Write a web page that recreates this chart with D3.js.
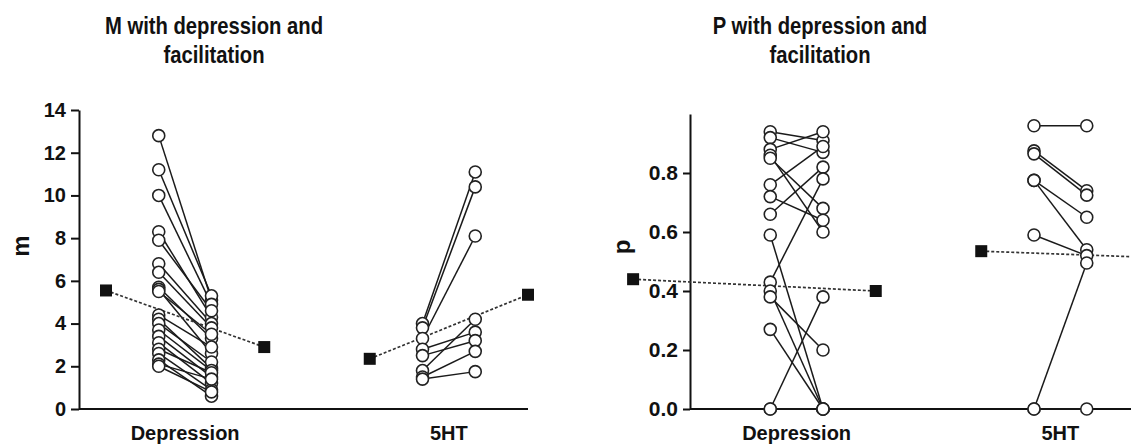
<!DOCTYPE html>
<html><head><meta charset="utf-8">
<script src="https://cdn.jsdelivr.net/npm/d3@7"></script>
<style>
body{margin:0;background:#fff}
svg{display:block}
text{font-family:"Liberation Sans",Arial,Helvetica,sans-serif;font-weight:bold;fill:#111}
</style>
</head><body>
<svg id="c" width="1131" height="444"></svg>
<script>
// ---------- data ----------
const categories = ["Depression", "5HT"];
const titles = [["M with depression and", "facilitation"], ["P with depression and", "facilitation"]];
const yLabels = ["m", "p"];

const mTicks = [0, 2, 4, 6, 8, 10, 12, 14];
const pTicks = [0, 0.2, 0.4, 0.6, 0.8];

// M panel, Depression (before -> after)
const mDepBefore = [12.8, 11.2, 10.0, 8.3, 7.9, 6.8, 6.4, 5.7, 5.6, 5.5, 4.4, 4.2, 4.0, 3.7, 3.4, 3.1, 2.8, 2.6, 2.3, 2.1, 2.0];
const mDepAfter  = [5.1, 5.3, 4.9, 4.3, 4.6, 4.0, 3.8, 3.3, 2.6, 3.5, 2.9, 1.9, 2.2, 1.8, 1.5, 1.2, 1.7, 0.9, 0.6, 1.4, 0.8];
const mDepMean   = [5.55, 2.9];
// M panel, 5HT
const m5htBefore = [4.0, 3.8, 3.3, 2.8, 2.5, 1.8, 1.5, 1.4];
const m5htAfter  = [11.1, 10.4, 8.1, 3.6, 3.2, 4.2, 2.7, 1.75];
const m5htMean   = [2.35, 5.35];

// P panel, Depression
const pDepBefore = [0.94, 0.92, 0.88, 0.86, 0.85, 0.76, 0.72, 0.66, 0.59, 0.43, 0.40, 0.38, 0.27, 0.0, 0.0];
const pDepAfter  = [0.91, 0.87, 0.94, 0.60, 0.68, 0.89, 0.64, 0.82, 0.0, 0.78, 0.0, 0.20, 0.0, 0.38, 0.0];
const pDepMean   = [0.44, 0.40];
// P panel, 5HT
const p5htBefore = [0.96, 0.875, 0.865, 0.775, 0.775, 0.59, 0.0, 0.0];
const p5htAfter  = [0.96, 0.74, 0.725, 0.65, 0.54, 0.52, 0.495, 0.0];
const p5htMean   = [0.535, 0.515];

// ---------- drawing ----------
const svg = d3.select("#c");
function zip(a, b) { return a.map((v, i) => [v, b[i]]); }

const panels = [
  {
    title: titles[0], ylab: yLabels[0], ticks: mTicks, fmt: d3.format("d"),
    y: d3.scaleLinear().domain([0, 14]).range([409, 110]),
    x: d3.scaleLinear().domain([0, 8]).range([106, 528]),
    axisX: 79, axisEnd: 528, titleX: 214, ylabX: 29, ylabY: 246,
    tickSize: 8, tickPad: 5, tickFont: 20,
    groups: [
      { cat: categories[0], pairs: zip(mDepBefore, mDepAfter), mean: mDepMean, iML: 0, iB: 1, iA: 2, iMR: 3 },
      { cat: categories[1], pairs: zip(m5htBefore, m5htAfter), mean: m5htMean, iML: 5, iB: 6, iA: 7, iMR: 8 }
    ]
  },
  {
    title: titles[1], ylab: yLabels[1], ticks: pTicks, fmt: d3.format(".1f"),
    y: d3.scaleLinear().domain([0, 1]).range([409, 114]),
    x: d3.scaleLinear().domain([0, 8]).range([717.5, 1139.5]),
    axisX: 690, axisEnd: 1131, titleX: 820, ylabX: 630, ylabY: 247,
    tickSize: 7, tickPad: 5, tickFont: 21,
    groups: [
      { cat: categories[0], pairs: zip(pDepBefore, pDepAfter), mean: pDepMean, iML: -1.6, iB: 1, iA: 2, iMR: 3 },
      { cat: categories[1], pairs: zip(p5htBefore, p5htAfter), mean: p5htMean, iML: 5, iB: 6, iA: 7, iMR: 8.05 }
    ]
  }
];

panels.forEach(p => {
  const g = svg.append("g");
  // title (condensed look)
  g.append("text").attr("transform", `translate(${p.titleX},34) scale(0.88,1)`).attr("text-anchor", "middle")
    .style("font-size", "23px").text(p.title[0]);
  g.append("text").attr("transform", `translate(${p.titleX},63) scale(0.88,1)`).attr("text-anchor", "middle")
    .style("font-size", "23px").text(p.title[1]);

  // y axis
  const ax = g.append("g").attr("transform", `translate(${p.axisX},0)`)
    .call(d3.axisLeft(p.y).tickValues(p.ticks).tickFormat(p.fmt).tickSize(p.tickSize).tickSizeOuter(0).tickPadding(p.tickPad));
  ax.select(".domain").attr("stroke", "#111").attr("stroke-width", 2);
  ax.selectAll(".tick line").attr("stroke", "#111").attr("stroke-width", 2);
  ax.selectAll(".tick text").style("font-size", p.tickFont + "px").attr("fill", "#111")
    .style("font-family", "'Liberation Sans',Arial,sans-serif").style("font-weight", "bold");

  // x axis line
  g.append("line").attr("x1", p.axisX).attr("x2", p.axisEnd)
    .attr("y1", p.y(0)).attr("y2", p.y(0)).attr("stroke", "#111").attr("stroke-width", 2);

  // y label
  g.append("text").attr("transform", `translate(${p.ylabX},${p.ylabY}) rotate(-90)`)
    .attr("text-anchor", "middle").style("font-size", "24px").text(p.ylab);

  p.groups.forEach(gr => {
    const xb = p.x(gr.iB), xa = p.x(gr.iA);
    // category label
    g.append("text").attr("x", (xb + xa) / 2).attr("y", 440).attr("text-anchor", "middle")
      .style("font-size", "20px").text(gr.cat);
    // pair lines
    g.selectAll(null).data(gr.pairs).join("line")
      .attr("x1", xb).attr("x2", xa)
      .attr("y1", d => p.y(d[0])).attr("y2", d => p.y(d[1]))
      .attr("stroke", "#1a1a1a").attr("stroke-width", 1.5);
    // mean dashed line
    g.append("line").attr("x1", p.x(gr.iML)).attr("x2", p.x(gr.iMR))
      .attr("y1", p.y(gr.mean[0])).attr("y2", p.y(gr.mean[1]))
      .attr("stroke", "#333").attr("stroke-width", 1.7).attr("stroke-dasharray", "3,2");
    // circles
    const pts = [];
    gr.pairs.forEach(d => { pts.push([xb, d[0]]); pts.push([xa, d[1]]); });
    g.selectAll(null).data(pts).join("circle")
      .attr("cx", d => d[0]).attr("cy", d => p.y(d[1])).attr("r", 6)
      .attr("fill", "#fff").attr("stroke", "#222").attr("stroke-width", 1.6);
    // mean squares
    const ms = [[p.x(gr.iML), gr.mean[0]], [p.x(gr.iMR), gr.mean[1]]];
    g.selectAll(null).data(ms).join("rect")
      .attr("x", d => d[0] - 6).attr("y", d => p.y(d[1]) - 6)
      .attr("width", 12).attr("height", 12).attr("fill", "#111");
  });
});
</script>
</body></html>
